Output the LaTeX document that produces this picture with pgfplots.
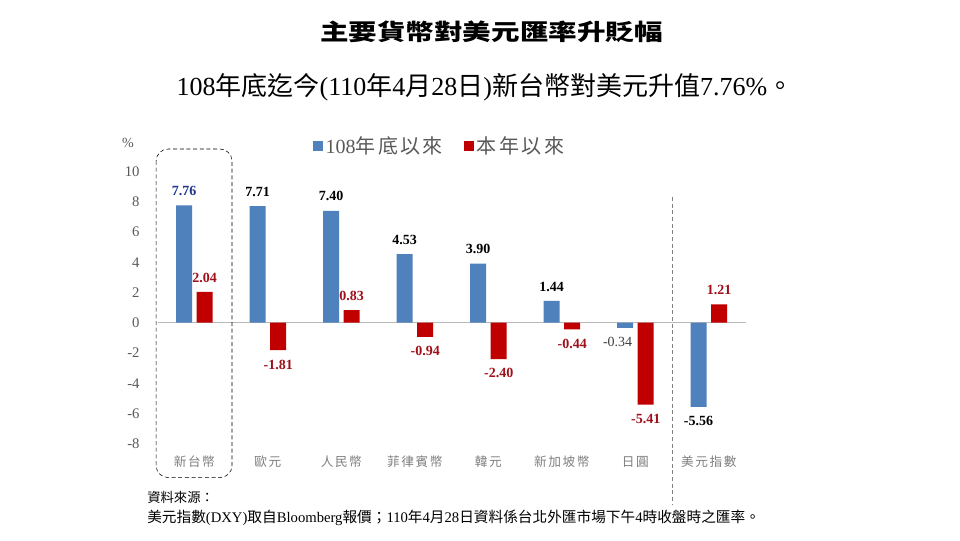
\documentclass[border=0pt]{standalone}
\usepackage{fontspec}
\usepackage{xcolor}
\usepackage{pgfplots}
\pgfplotsset{compat=1.18}
\setmainfont{Liberation Serif}
\newfontfamily\cjk{Noto Sans CJK TC}
\newfontfamily\cjkls[LetterSpace=12]{Noto Sans CJK TC}
\newfontfamily\cjktitle[FakeStretch=1.26]{Noto Sans CJK TC}

\definecolor{barblue}{HTML}{4F81BD}
\definecolor{barred}{HTML}{C00000}
\definecolor{lblnavy}{HTML}{23358F}
\definecolor{lblred}{HTML}{A0101A}
\definecolor{txtgray}{HTML}{595959}
\definecolor{catgray}{HTML}{7F7F7F}

\begin{document}
\begin{tikzpicture}
% page = 960x540 px, 1px = 0.75pt, origin at the top left
\useasboundingbox[fill=white] (0,0) rectangle (720pt,-405pt);

\node[font=\cjktitle\bfseries\fontsize{17}{20}\selectfont] at (368.6pt,-24pt) {主要貨幣對美元匯率升貶幅};
\node[font=\fontsize{19.5}{22}\selectfont] at (363.75pt,-65.25pt)
  {108{\cjk 年底迄今}(110{\cjk 年}4{\cjk 月}28{\cjk 日}){\cjk 新台幣對美元升值}7.76\%{\cjk 。}};

\node[text=txtgray, font=\fontsize{10.5}{12}\selectfont] at (96pt,-107.25pt) {\%};

\begin{axis}[
    at={(118.2pt,-332.85pt)}, anchor=south west,
    scale only axis, width=441pt, height=204.3pt,
    xmin=-0.5, xmax=7.5, ymin=-8, ymax=10,
    ybar, bar width=12pt,
    axis line style={draw=none},
    major tick length=0pt,
    clip=false,
    xtick={0,1,2,3,4,5,6,7},
    xticklabels={新台幣,歐元,人民幣,菲律賓幣,韓元,新加坡幣,日圓,美元指數},
    xticklabel style={anchor=center, yshift=-13.7pt, text=catgray,
        font=\cjkls\fontsize{9.5}{11}\selectfont},
    ytick={-8,-6,-4,-2,0,2,4,6,8,10},
    yticklabels={-8,-6,-4,-2,0,2,4,6,8,10},
    yticklabel style={anchor=east, xshift=-10pt, text=txtgray,
        font=\fontsize{11}{12}\selectfont},
    point meta=explicit symbolic,
    visualization depends on=y \as \rawy,
    nodes near coords,
    nodes near coords style={font=\bfseries\fontsize{10.5}{12}\selectfont, inner ysep=7pt,
        anchor={\ifdim\rawy pt<0pt north\else south\fi}},
    legend columns=2,
    legend style={at={(0.48,1.093)}, anchor=center, draw=none, fill=none,
        font=\fontsize{15}{17}\selectfont, text=txtgray,
        /tikz/every even column/.append style={column sep=14pt}},
    legend cell align=left,
    legend image code/.code={\fill[#1,draw=none] (0pt,-3.8pt) rectangle (7.6pt,3.8pt);},
]
\draw[gray!55] (axis cs:-0.5,0) -- (axis cs:7.5,0);

\addplot[fill=barblue, draw=none, bar shift=-7.76pt] coordinates {
    (0,7.76) [\textcolor{lblnavy}{7.76}]
    (1,7.71) [7.71]
    (2,7.40) [7.40]
    (3,4.53) [4.53]
    (4,3.90) [3.90]
    (5,1.44) [1.44]
    (6,-0.34) [{\mdseries\textcolor{darkgray}{-0.34}\kern11pt}]
    (7,-5.56) [-5.56]
};
\addlegendentry{108{\cjkls 年底以來}}

\addplot[fill=barred, draw=none, bar shift=7.76pt,
    nodes near coords style={text=lblred}] coordinates {
    (0,2.04) [2.04]
    (1,-1.81) [-1.81]
    (2,0.83) [0.83]
    (3,-0.94) [-0.94]
    (4,-2.40) [-2.40]
    (5,-0.44) [-0.44]
    (6,-5.41) [-5.41]
    (7,1.21) [1.21]
};
\addlegendentry{\cjkls 本年以來}

\draw[black, dash pattern=on 3pt off 2pt, rounded corners=9pt]
    (axis cs:-0.52,11.48) rectangle (axis cs:0.512,-10.23);
\draw[gray, thin, dash pattern=on 3pt off 2pt]
    (axis cs:6.5,8.3) -- (axis cs:6.5,-12.05);
\end{axis}

\node[anchor=west, inner sep=0pt, font=\cjk\fontsize{10}{12}\selectfont] at (110.25pt,-372.75pt) {資料來源：};
\node[anchor=west, inner sep=0pt, font=\fontsize{11}{12}\selectfont] at (110.25pt,-388.5pt)
  {{\cjk 美元指數}(DXY){\cjk 取自}Bloomberg{\cjk 報價；}110{\cjk 年}4{\cjk 月}28{\cjk 日資料係台北外匯市場下午}4{\cjk 時收盤時之匯率。}};
\end{tikzpicture}
\end{document}
